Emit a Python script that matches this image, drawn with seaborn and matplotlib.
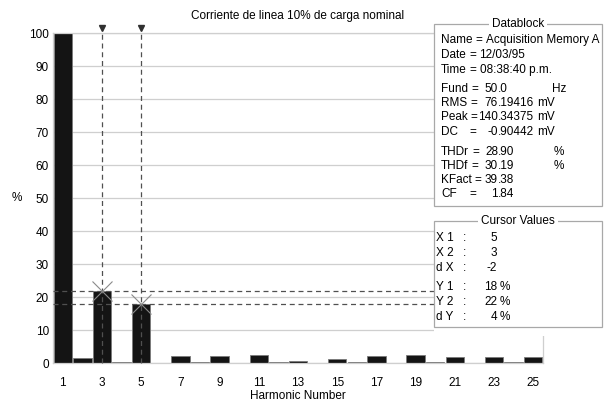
import matplotlib
matplotlib.use("Agg")
import matplotlib.pyplot as plt
import seaborn as sns
import pandas as pd
from matplotlib.patches import Rectangle

# %%
# harmonic spectrum, % of fundamental
harmonics = [1, 2, 3, 4, 5, 6, 7, 8, 9, 10, 11, 12, 13,
             14, 15, 16, 17, 18, 19, 20, 21, 22, 23, 24, 25]
magnitude = [100, 1.5, 22, 0.4, 18, 0, 2.2, 0.4, 2.2, 0, 2.5, 0.4, 0.8,
             0, 1.2, 0.4, 2.3, 0, 2.5, 0.4, 1.9, 0, 1.9, 0.4, 1.9]
odd_ticks = [1, 3, 5, 7, 9, 11, 13, 15, 17, 19, 21, 23, 25]

# cursors (X1, X2) and their readings (Y1, Y2)
cursor_x = [5, 3]
cursor_y = [18, 22]

title = "Corriente de linea 10% de carga nominal"

# datablock
db_labels = ["Name", "Date", "Time", "Fund", "RMS", "Peak", "DC",
             "THDr", "THDf", "KFact", "CF"]
db_values = ["Acquisition Memory A", "12/03/95", "08:38:40 p.m.", "50.0",
             "76.19416", "140.34375", "-0.90442", "28.90", "30.19",
             "39.38", "1.84"]
db_units = ["", "", "", "Hz", "mV", "mV", "mV", "%", "%", "", ""]

# cursor values block
cv_labels = ["X 1", "X 2", "d X", "Y 1", "Y 2", "d Y"]
cv_values = ["5", "3", "-2", "18", "22", "4"]
cv_units = ["", "", "", "%", "%", "%"]

df = pd.DataFrame({"Harmonic": harmonics, "Magnitude": magnitude})

# %%
W, H = 604, 403


def fx(x):
    return x / W


def fy(y):
    return 1 - y / H


sns.set_style("white")
plt.rcParams["font.family"] = ["Liberation Sans", "DejaVu Sans"]
plt.rcParams["font.size"] = 8.5
for k in ["text.color", "axes.labelcolor", "xtick.color", "ytick.color"]:
    plt.rcParams[k] = "black"

fig = plt.figure(figsize=(W / 100, H / 100), dpi=100)
ax = fig.add_axes([fx(53), fy(363.3), fx(543) - fx(53), fy(33.3) - fy(363.3)])

sns.barplot(data=df, x="Harmonic", y="Magnitude", native_scale=True,
            color="#141414", edgecolor="#7a7a7a", linewidth=0.6,
            width=0.94, errorbar=None, saturation=1, ax=ax, zorder=2)

ax.set_xlim(0.5, 25.5)
ax.set_ylim(0, 100)
ax.set_xticks(odd_ticks)
ax.set_xticklabels([str(t) for t in odd_ticks])
ax.set_yticks(range(0, 101, 10))
ax.tick_params(axis="both", labelsize=8.5)
ax.tick_params(axis="x", length=0, pad=10)
ax.tick_params(axis="y", length=0, pad=3)
ax.yaxis.grid(True, color="#cfcfcf", lw=0.9, zorder=0)
ax.set_axisbelow(True)
for s in ax.spines.values():
    s.set_color("#cfcfcf")
    s.set_linewidth(0.9)

ax.set_xlabel("Harmonic Number", fontsize=8.5, va="center")
ax.xaxis.set_label_coords(0.5, (363.3 - 396) / 330)
ax.set_ylabel("%", rotation=0, fontsize=8.5, va="center", ha="center")
ax.yaxis.set_label_coords((17 - 53) / 490, 0.5)
ax.set_title(title, pad=10, fontsize=8.5)

# cursor lines
dash = dict(color="#505050", lw=0.9, ls=(0, (4, 3)), zorder=4)
for cx in cursor_x:
    ax.plot([cx, cx], [0, 101.3], clip_on=False, **dash)
for cy in cursor_y:
    ax.plot([0.5, 25.5], [cy, cy], **dash)
ax.plot(cursor_x, [101.5] * len(cursor_x), ls="none", marker="v", ms=5,
        color="#303030", clip_on=False, zorder=5)
ax.plot(cursor_x, cursor_y, ls="none", marker="x", ms=14, mew=0.8,
        color="#8a8a8a", zorder=5)

# %%
# panel area on the right hides part of the plot frame
fig.add_artist(Rectangle((fx(433.5), fy(336)), fx(604) - fx(433.5), fy(20) - fy(336),
                         transform=fig.transFigure, facecolor="white",
                         edgecolor="none", zorder=5))


def group_box(x0, y0, x1, y1, label):
    fig.add_artist(Rectangle((fx(x0), fy(y1)), fx(x1) - fx(x0), fy(y0) - fy(y1),
                             transform=fig.transFigure, facecolor="white",
                             edgecolor="#a8a8a8", lw=0.9, zorder=6))
    fig.text(fx((x0 + x1) / 2), fy(y0), label, ha="center", va="center",
             zorder=8, bbox=dict(facecolor="white", edgecolor="none", pad=2))


group_box(434, 24, 602, 206, "Datablock")
group_box(434, 221, 602, 327, "Cursor Values")

fig.canvas.draw()
renderer = fig.canvas.get_renderer()

db_rows_y = [40, 55, 70, 89, 103, 117, 132, 152, 166, 180, 194]
dec_x = 498
for i, (lab, val, unit) in enumerate(zip(db_labels, db_values, db_units)):
    y = fy(db_rows_y[i])
    t = fig.text(fx(441), y, lab, va="center", zorder=9)
    right = t.get_window_extent(renderer).x1
    eq_x = right + 3 if i == 0 else max(right + 3, 469)
    fig.text(fx(eq_x), y, "=", va="center", zorder=9)
    if i < 3:
        fig.text(fx(eq_x + 10.5), y, val, va="center", zorder=9)
        continue
    whole, frac = val.split(".")
    fig.text(fx(dec_x), y, whole, ha="right", va="center", zorder=9)
    tf = fig.text(fx(dec_x), y, "." + frac, ha="left", va="center", zorder=9)
    if unit:
        if unit == "mV":
            ux = tf.get_window_extent(renderer).x1 + 3
        else:
            ux = {"Hz": 552, "%": 554}[unit]
        fig.text(fx(ux), y, unit, va="center", zorder=9)

cv_rows_y = [238, 253, 268, 287, 302, 317]
for lab, val, unit, yy in zip(cv_labels, cv_values, cv_units, cv_rows_y):
    y = fy(yy)
    fig.text(fx(436), y, lab, va="center", zorder=9)
    fig.text(fx(463), y, ":", va="center", zorder=9)
    fig.text(fx(497), y, val, ha="right", va="center", zorder=9)
    if unit:
        fig.text(fx(500), y, unit, va="center", zorder=9)

fig.savefig("out.png", dpi=100, facecolor="white")
